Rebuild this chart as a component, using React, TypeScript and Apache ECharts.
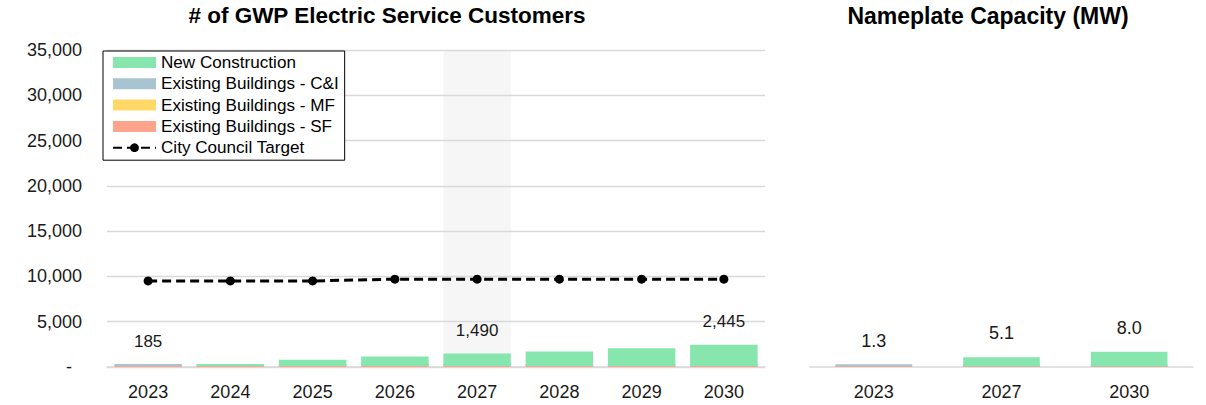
import React, { useEffect, useRef } from "react";
import * as echarts from "echarts";

// ---- Data: customers chart ----
const categories = ["2023", "2024", "2025", "2026", "2027", "2028", "2029", "2030"];
const newConstruction = [0, 230, 700, 1050, 1390, 1600, 1960, 2345];
const existingCI = [85, 0, 0, 0, 0, 0, 0, 0];
const existingMF = [0, 0, 0, 0, 0, 0, 0, 0];
const existingSF = [100, 100, 100, 100, 100, 100, 100, 100];
const cityCouncilTarget = [9500, 9500, 9500, 9700, 9700, 9700, 9700, 9700];
const labeledYears = ["2023", "2027", "2030"];
const highlightYear = "2027";
const customersTitle = "# of GWP Electric Service Customers";

// ---- Data: capacity chart ----
const capacityYears = ["2023", "2027", "2030"];
const capNewConstruction = [0, 4.7, 7.6];
const capExistingCI = [0.9, 0, 0];
const capExistingMF = [0, 0, 0];
const capExistingSF = [0.4, 0.4, 0.4];
const capacityTitle = "Nameplate Capacity (MW)";

const COLORS = {
  nc: "#86E6AD",
  ci: "#A8C4D1",
  mf: "#FFD868",
  sf: "#FFA48C",
};
const FONT = "Liberation Sans, Arial, sans-serif";
const TEXT = "#1a1a1a";

export default function App() {
  const ref = useRef<HTMLDivElement>(null);

  useEffect(() => {
    if (!ref.current) return;
    const chart = echarts.init(ref.current, undefined, { renderer: "svg" });

    const totals = categories.map((c, i) =>
      labeledYears.includes(c)
        ? newConstruction[i] + existingCI[i] + existingMF[i] + existingSF[i]
        : "-"
    );
    const capTotals = capacityYears.map(
      (_, i) => capNewConstruction[i] + capExistingCI[i] + capExistingMF[i] + capExistingSF[i]
    );
    const band = categories.map((c) => (c === highlightYear ? 35000 : "-"));

    const barCommon = (xi: number) => ({
      type: "bar",
      xAxisIndex: xi,
      yAxisIndex: xi,
      barGap: "-100%",
      barCategoryGap: xi === 0 ? "18%" : "40%",
    });

    const option: any = {
      animation: false,
      textStyle: { fontFamily: FONT },
      title: [
        {
          text: customersTitle,
          left: 382,
          top: -1,
          textAlign: "center",
          textStyle: { fontSize: 22.5, fontWeight: "bold", color: "#000", fontFamily: FONT },
        },
        {
          text: capacityTitle,
          left: 983,
          top: -1,
          textAlign: "center",
          textStyle: { fontSize: 23, fontWeight: "bold", color: "#000", fontFamily: FONT },
        },
      ],
      legend: {
        orient: "vertical",
        left: 103,
        top: 51,
        backgroundColor: "#fff",
        borderColor: "#000",
        borderWidth: 1,
        padding: [3, 6, 4, 9],
        itemGap: 4.3,
        itemWidth: 43,
        itemHeight: 11,
        textStyle: { fontSize: 17.1, color: "#000", fontFamily: FONT },
        data: [
          { name: "New Construction", icon: "rect" },
          { name: "Existing Buildings - C&I", icon: "rect" },
          { name: "Existing Buildings - MF", icon: "rect" },
          { name: "Existing Buildings - SF", icon: "rect" },
          { name: "City Council Target" },
        ],
      },
      grid: [
        { left: 107, right: 441, top: 50, bottom: 38 },
        { left: 810, right: 13, top: 50, bottom: 38 },
      ],
      xAxis: [
        {
          type: "category",
          gridIndex: 0,
          data: categories,
          axisLine: { lineStyle: { color: "#d9d9d9", width: 1.5 } },
          axisTick: { show: false },
          axisLabel: { fontSize: 18, color: TEXT, margin: 16, fontFamily: FONT },
        },
        {
          type: "category",
          gridIndex: 1,
          data: capacityYears,
          axisLine: { lineStyle: { color: "#d9d9d9", width: 1.5 } },
          axisTick: { show: false },
          axisLabel: { fontSize: 18, color: TEXT, margin: 16, fontFamily: FONT },
        },
      ],
      yAxis: [
        {
          type: "value",
          gridIndex: 0,
          min: 0,
          max: 35000,
          interval: 5000,
          axisLine: { show: false },
          axisTick: { show: false },
          splitLine: { lineStyle: { color: "#d9d9d9", width: 1.3 } },
          axisLabel: {
            fontSize: 18,
            color: TEXT,
            margin: 25,
            fontFamily: FONT,
            formatter: (v: number) => (v === 0 ? "{d|-}" : v.toLocaleString("en-US")),
            rich: { d: { padding: [0, 10, 0, 0], fontSize: 18, color: TEXT } },
          },
        },
        {
          type: "value",
          gridIndex: 1,
          min: 0,
          max: 165,
          show: false,
          splitLine: { show: false },
        },
      ],
      series: [
        {
          ...barCommon(0),
          name: "highlight",
          data: band,
          silent: true,
          z: -1,
          itemStyle: { color: "#f6f6f6" },
        },
        { ...barCommon(0), name: "Existing Buildings - SF", stack: "a", data: existingSF, barMinHeight: 2, itemStyle: { color: COLORS.sf } },
        { ...barCommon(0), name: "Existing Buildings - MF", stack: "a", data: existingMF, itemStyle: { color: COLORS.mf } },
        { ...barCommon(0), name: "Existing Buildings - C&I", stack: "a", data: existingCI, barMinHeight: 2, itemStyle: { color: COLORS.ci } },
        { ...barCommon(0), name: "New Construction", stack: "a", data: newConstruction, itemStyle: { color: COLORS.nc } },
        {
          ...barCommon(0),
          name: "total",
          data: totals,
          silent: true,
          itemStyle: { color: "rgba(0,0,0,0)" },
          label: {
            show: true,
            position: "top",
            distance: 15,
            fontSize: 17,
            color: TEXT,
            fontFamily: FONT,
            formatter: (p: any) => Number(p.value).toLocaleString("en-US"),
          },
        },
        {
          type: "line",
          name: "City Council Target",
          xAxisIndex: 0,
          yAxisIndex: 0,
          data: cityCouncilTarget,
          symbol: "circle",
          symbolSize: 9,
          itemStyle: { color: "#000" },
          lineStyle: { color: "#000", width: 3, type: [9, 5] },
          z: 5,
        },
        // capacity chart
        { ...barCommon(1), name: "Existing Buildings - SF", stack: "b", data: capExistingSF, barMinHeight: 2, itemStyle: { color: COLORS.sf } },
        { ...barCommon(1), name: "Existing Buildings - MF", stack: "b", data: capExistingMF, itemStyle: { color: COLORS.mf } },
        { ...barCommon(1), name: "Existing Buildings - C&I", stack: "b", data: capExistingCI, barMinHeight: 2, itemStyle: { color: COLORS.ci } },
        { ...barCommon(1), name: "New Construction", stack: "b", data: capNewConstruction, itemStyle: { color: COLORS.nc } },
        {
          ...barCommon(1),
          name: "capTotal",
          data: capTotals,
          silent: true,
          itemStyle: { color: "rgba(0,0,0,0)" },
          label: {
            show: true,
            position: "top",
            distance: 15,
            fontSize: 18,
            color: TEXT,
            fontFamily: FONT,
            formatter: (p: any) => Number(p.value).toFixed(1),
          },
        },
      ],
    };

    chart.setOption(option);
    return () => chart.dispose();
  }, []);

  return (
    <div
      ref={ref}
      style={{ position: "fixed", left: 0, top: 0, width: 1206, height: 405, background: "#fff" }}
    />
  );
}
